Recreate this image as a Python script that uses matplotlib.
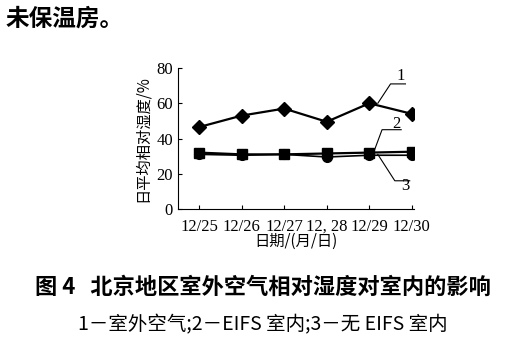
import matplotlib
matplotlib.use("Agg")
import matplotlib.pyplot as plt

plt.rcParams['font.family'] = ['Noto Sans CJK SC', 'DejaVu Sans']

# data
dates = ["12/25", "12/26", "12/27", "12, 28", "12/29", "12/30"]
outdoor = [46.5, 53, 57, 49.5, 60, 54]       # 1 - 室外空气
eifs_in = [32, 31, 31, 31.5, 32, 32.5]       # 2 - EIFS 室内
no_eifs_in = [31, 30.5, 31, 29.5, 30.5, 30.5]  # 3 - 无 EIFS 室内

fig = plt.figure(figsize=(5.26, 3.42), dpi=100)
ax = fig.add_axes([0.338, 0.389, 0.449, 0.412])

x = list(range(len(dates)))
ax.plot(x, outdoor, color="black", lw=1.6, marker="D", ms=7)
ax.plot(x, eifs_in, color="black", lw=1.6, marker="s", ms=7)
ax.plot(x, no_eifs_in, color="black", lw=1.2, marker="o", ms=7)

ax.set_xlim(-0.5, 5.05)
ax.set_ylim(0, 80)
ax.set_yticks([0, 20, 40, 60, 80])
ax.set_xticks(x)
ax.set_xticklabels(dates)
for s in ["top", "right"]:
    ax.spines[s].set_visible(False)
ax.tick_params(axis="both", direction="in", length=3, labelsize=12)
for lab in ax.get_xticklabels() + ax.get_yticklabels():
    lab.set_family("Liberation Serif")
ax.tick_params(axis="x", pad=7)

ax.set_ylabel("日平均相对湿度/%", fontsize=11, labelpad=4)
ax.set_xlabel("日期/(月/日)", fontsize=11, labelpad=-1)

# curve labels with leader lines
ax.plot([4.2, 4.5, 4.85], [60, 71, 71], color="black", lw=0.8)
ax.text(4.65, 73, "1", fontsize=12, family="Liberation Serif")
ax.plot([4.1, 4.3, 4.75], [32, 45, 45], color="black", lw=0.8)
ax.text(4.55, 46, "2", fontsize=12, family="Liberation Serif")
ax.plot([4.2, 4.6, 4.95], [31, 16, 16], color="black", lw=0.8)
ax.text(4.75, 11, "3", fontsize=12, family="Liberation Serif")

fig.text(0.01, 0.945, "未保温房。", fontsize=17, fontweight="bold", va="center")
fig.text(0.5, 0.16, "图 4   北京地区室外空气相对湿度对室内的影响",
         fontsize=16, fontweight="bold", ha="center", va="center")
fig.text(0.5, 0.05, "1－室外空气;2－EIFS 室内;3－无 EIFS 室内",
         fontsize=14, ha="center", va="center")

fig.savefig("out.png", dpi=100)
